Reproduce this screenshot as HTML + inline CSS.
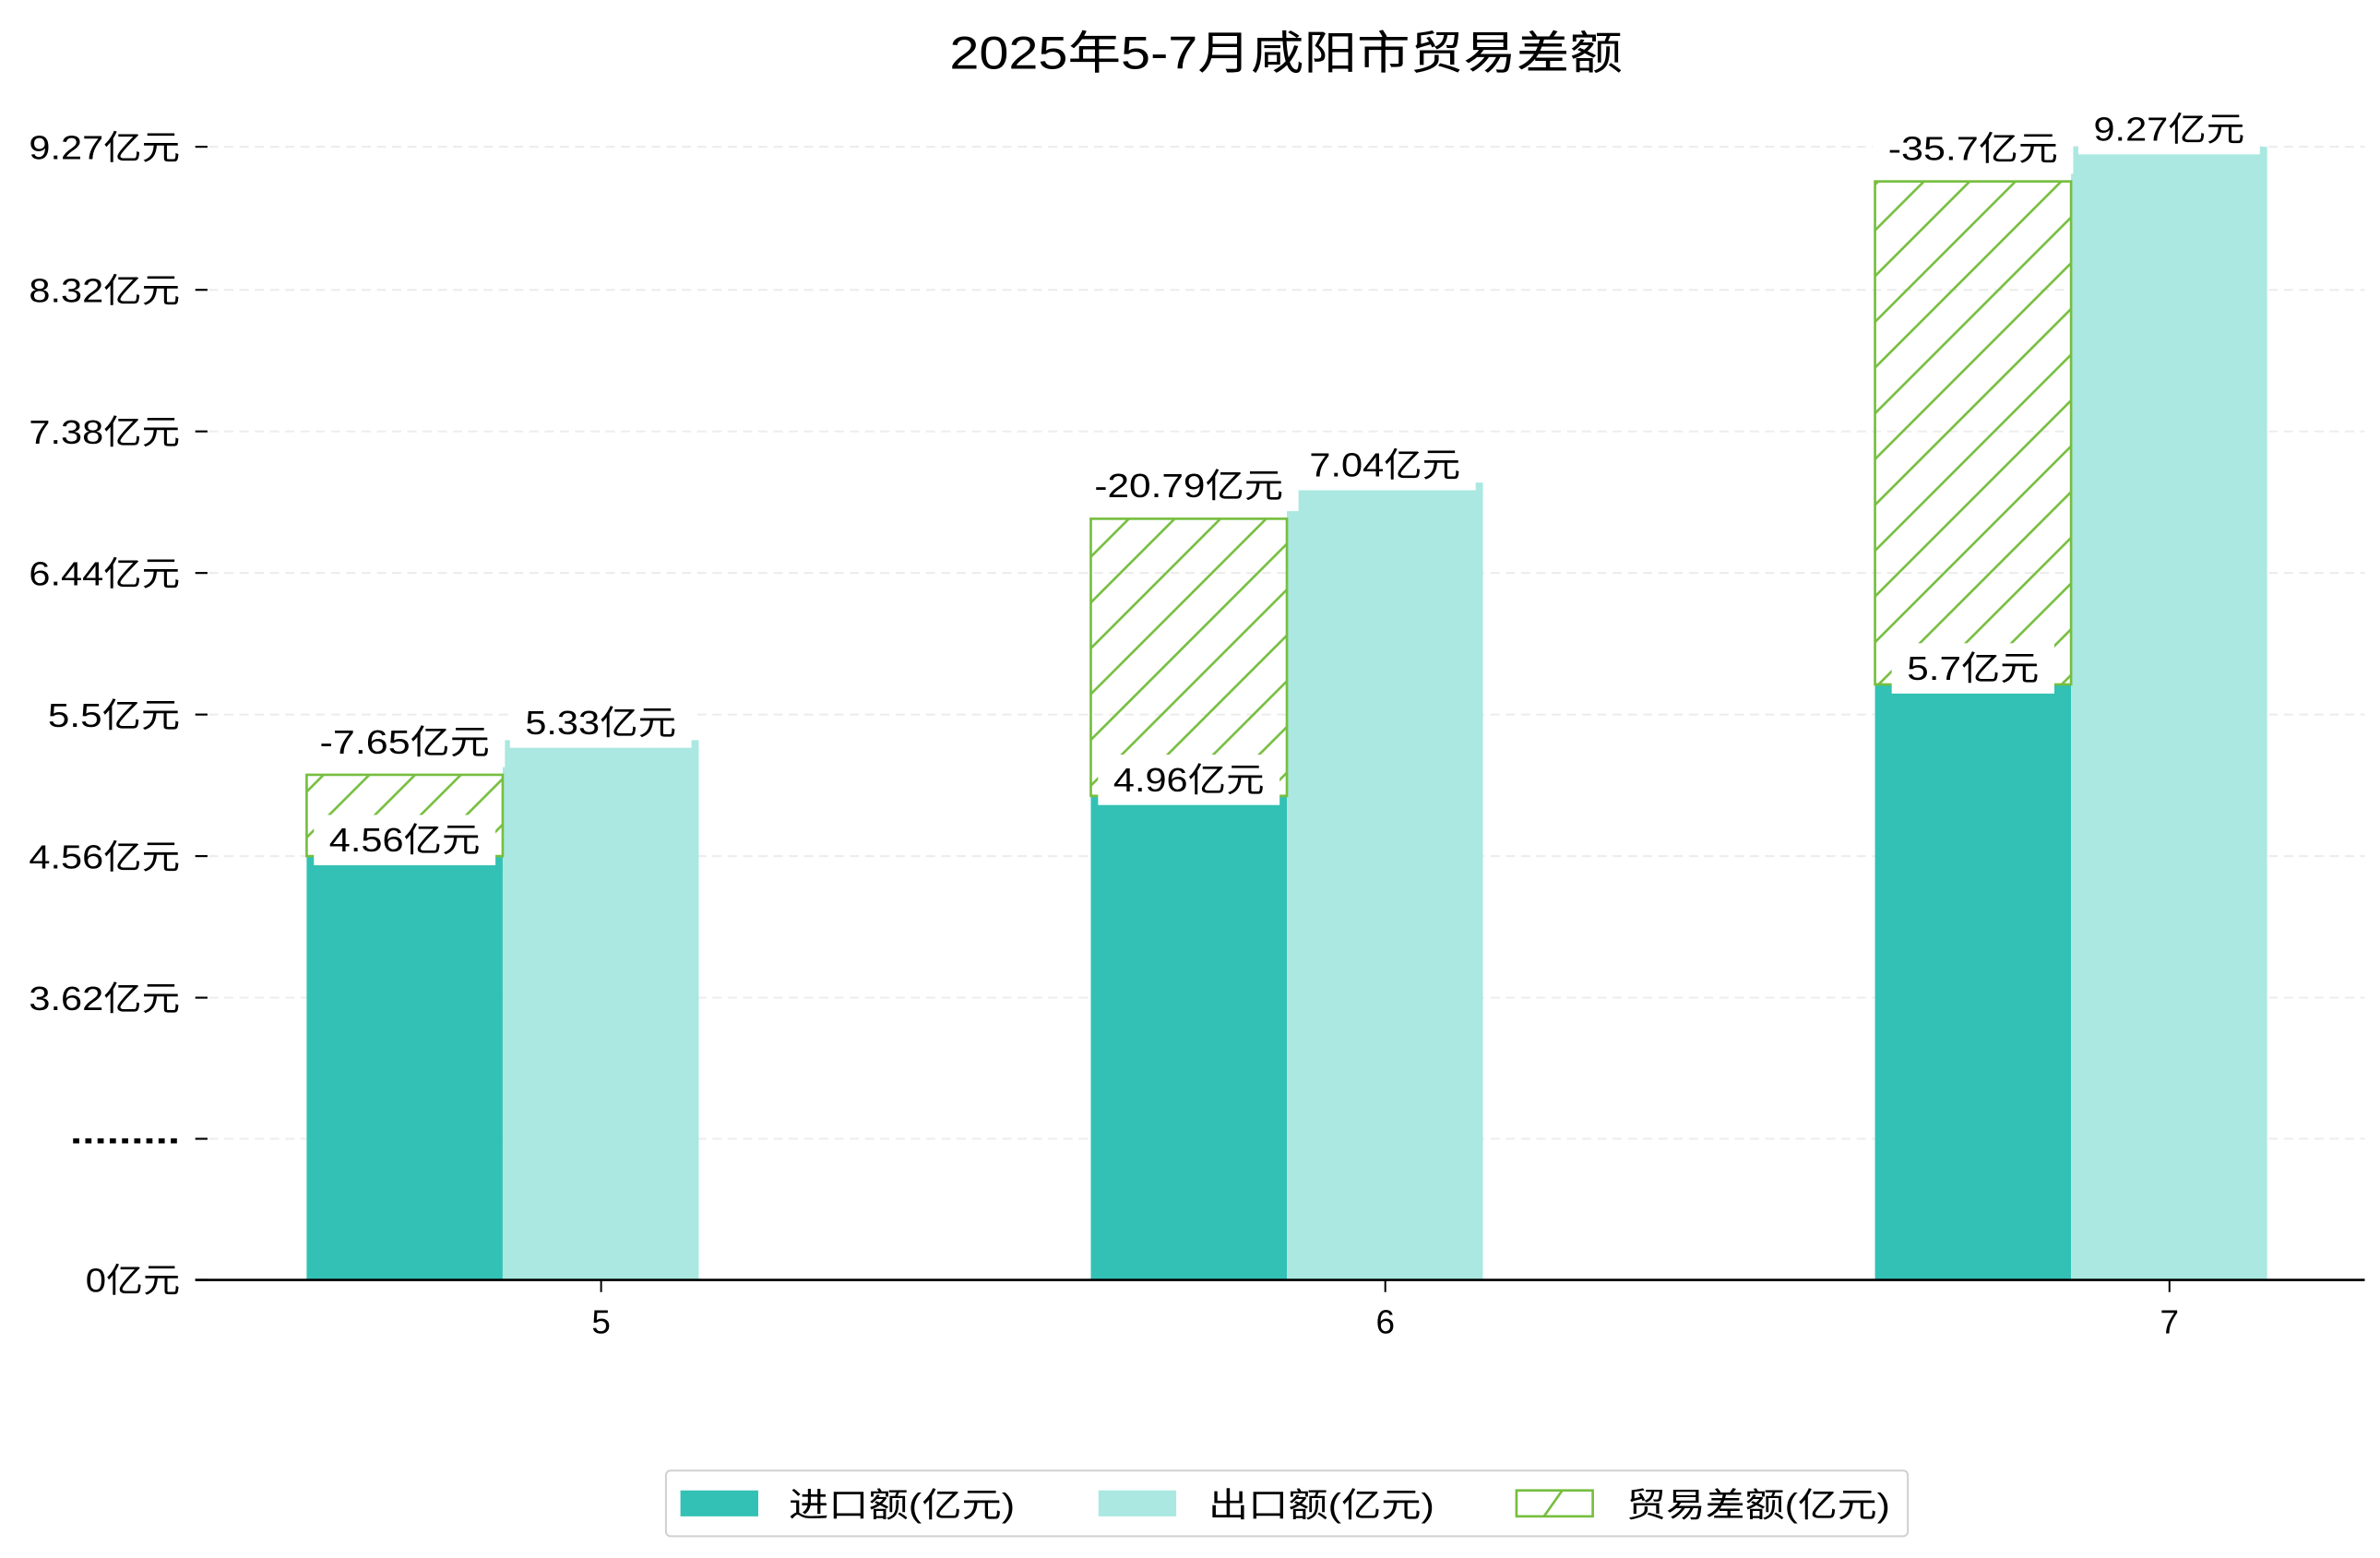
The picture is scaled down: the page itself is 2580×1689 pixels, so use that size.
<!DOCTYPE html>
<html><head><meta charset="utf-8">
<style>
html,body{margin:0;padding:0;background:#fff;}
svg{display:block;font-family:"Liberation Sans","Noto Sans CJK SC",sans-serif;}
</style></head>
<body>
<svg id="chart" width="2580" height="1689" viewBox="0 0 1560 1021.3" preserveAspectRatio="none" xmlns="http://www.w3.org/2000/svg">
<defs>
<pattern id="hatch" patternUnits="userSpaceOnUse" width="30" height="30">
<line x1="-3" y1="33" x2="33" y2="-3" stroke="#76BE3F" stroke-width="1.6"/>
<line x1="-33" y1="33" x2="3" y2="-3" stroke="#76BE3F" stroke-width="1.6"/>
<line x1="27" y1="33" x2="63" y2="-3" stroke="#76BE3F" stroke-width="1.6"/>
</pattern>
</defs>
<text class="fit" data-em="35.3" x="843" y="45" text-anchor="middle" font-size="30" fill="#000">2025年5-7月咸阳市贸易差额</text>
<g id="grid"></g><g id="bars"></g><g id="axes"></g><g id="labels"></g>
<g>
<rect x="436.5" y="964" width="814" height="43" rx="3" fill="#fff" stroke="#d0d0d0" stroke-width="1.2"/>
<rect x="446" y="977" width="51" height="17" fill="#32C1B4"/>
<text class="fit" data-em="24.7" x="517" y="994" font-size="22">进口额(亿元)</text>
<rect x="720" y="977" width="51" height="17" fill="#AAE8E1"/>
<text class="fit" data-em="24.7" x="792" y="994" font-size="22">出口额(亿元)</text>
<rect x="994" y="977" width="50" height="17" fill="#fff" stroke="#76BE3F" stroke-width="1.6"/>
<line x1="1012" y1="994" x2="1024" y2="977" stroke="#76BE3F" stroke-width="1.6"/>
<text class="fit" data-em="24.7" x="1066" y="994" font-size="22">贸易差额(亿元)</text>
</g>
</svg>
<script>
const categories = ["5", "6", "7"];
const importValues = [4.56, 4.96, 5.7];
const exportValues = [5.33, 7.04, 9.27];
const balanceValues = [-7.65, -20.79, -35.7];
const balanceTopValues = [5.10, 6.80, 9.04];
const tickLabels = ["9.27亿元","8.32亿元","7.38亿元","6.44亿元","5.5亿元","4.56亿元","3.62亿元",".........","0亿元"];
const tickValues = [9.27, 8.32, 7.38, 6.44, 5.5, 4.56, 3.62];

const NS = "http://www.w3.org/2000/svg";
function mk(tag, attrs, parent) {
  const e = document.createElementNS(NS, tag);
  for (const k in attrs) e.setAttribute(k, attrs[k]);
  parent.appendChild(e);
  return e;
}
function emWidth(s) {
  let w = 0;
  for (const ch of s) w += ch.charCodeAt(0) < 256 ? 0.5 : 1;
  return w;
}
function fit(t, em) {
  t.setAttribute('textLength', (emWidth(t.textContent) * em).toFixed(1));
  t.setAttribute('lengthAdjust', 'spacingAndGlyphs');
}
const yBase = 839, yRef = 654, unitPx = 92.8 / 0.94;
function yScale(v) { return v <= 0 ? yBase : yRef - (v - 3.62) * unitPx; }
function xCenter(i) { return 394 + i * 514; }
const barW = 128.5;
const EM = 24.75;

const grid = document.getElementById('grid');
const axes = document.getElementById('axes');
const bars = document.getElementById('bars');
const labels = document.getElementById('labels');

tickLabels.forEach((lab, i) => {
  const y = i < tickValues.length ? yScale(tickValues[i]) : (i === 7 ? yRef + 92.5 : yBase);
  if (i < 8) {
    const g = mk('line', {x1: 137, x2: 1550, y1: y, y2: y, stroke: '#ececec', 'stroke-width': 1.2, 'stroke-dasharray': '6 4'}, grid);
    
    
  }
  const t = mk('line', {x1: 128, x2: 136, y1: y, y2: y, stroke: '#000', 'stroke-width': 1.3}, axes);
  
  
  const tx = mk('text', {x: 118, y: i === 7 ? y + 3 : y + 8, 'text-anchor': 'end', 'font-size': 22, fill: '#000'}, axes);
  tx.textContent = lab;
  
  
  if (i === 7) { tx.setAttribute('textLength', 72); tx.setAttribute('lengthAdjust', 'spacingAndGlyphs'); tx.setAttribute('font-weight', 'bold'); }
  else fit(tx, EM);
});
const xa = mk('line', {x1: 128, x2: 1550, y1: yBase, y2: yBase, stroke: '#000', 'stroke-width': 1.6}, axes);



function label(x, cy, text, name) {
  const tw = emWidth(text) * EM;
  const w = tw + 20;
  const r = mk('rect', {x: x - w / 2, y: cy - 16, width: w, height: 33, fill: '#fff'}, labels);
  
  
  const t = mk('text', {x: x, y: cy + 8, 'text-anchor': 'middle', 'font-size': 22, fill: '#000'}, labels);
  t.textContent = text;
  
  
  fit(t, EM);
}

categories.forEach((c, i) => {
  const cx = xCenter(i);
  const xi = cx - 193, xe = cx - 64.5;
  const yi = yScale(importValues[i]), ye = yScale(exportValues[i]), yb = yScale(balanceTopValues[i]);
  const b1 = mk('rect', {x: xi, y: yi, width: barW, height: yBase - yi, fill: '#32C1B4'}, bars);
  
  
  const b2 = mk('rect', {x: xe, y: ye, width: barW, height: yBase - ye, fill: '#AAE8E1'}, bars);
  
  
  const h = mk('rect', {x: xi, y: yb, width: barW, height: yi - yb, fill: 'url(#hatch)', stroke: '#76BE3F', 'stroke-width': 1.6}, bars);
  
  
  const tk = mk('line', {x1: cx, x2: cx, y1: yBase, y2: yBase + 8, stroke: '#000', 'stroke-width': 1.2}, axes);
  
  
  const tl = mk('text', {x: cx, y: 874, 'text-anchor': 'middle', 'font-size': 22, fill: '#000'}, axes);
  tl.textContent = c;
  
  
  fit(tl, EM);
  label(xi + barW / 2, yi - 11, importValues[i] + '亿元', 'import-value-label');
  label(xe + barW / 2, ye - 12, exportValues[i] + '亿元', 'export-value-label');
  label(xi + barW / 2, yb - 22, balanceValues[i] + '亿元', 'balance-value-label');
});
document.querySelectorAll('text.fit').forEach(t => fit(t, parseFloat(t.getAttribute('data-em'))));
</script>
</body></html>
